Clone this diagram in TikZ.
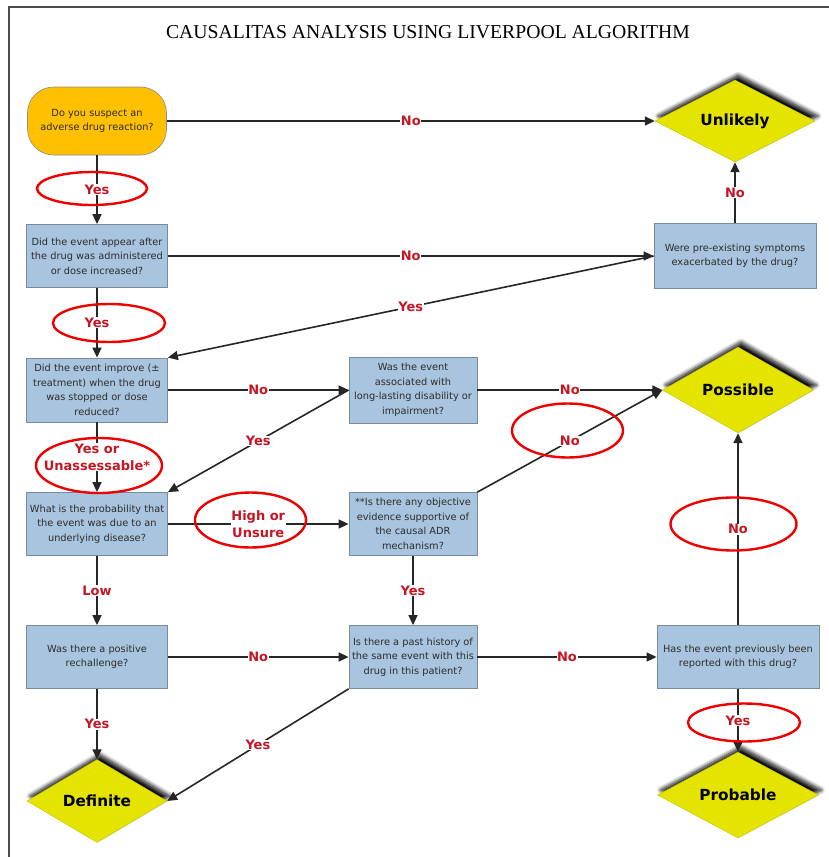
\documentclass[tikz,border=0pt]{standalone}
\usepackage{fontspec}
\setmainfont{DejaVu Sans}
\newfontfamily\titlefont{Liberation Serif}
\usetikzlibrary{shapes.geometric, arrows.meta, shadows.blur}

\definecolor{qblue}{RGB}{168,196,222}
\definecolor{qedge}{RGB}{120,140,160}
\definecolor{startfill}{RGB}{255,192,0}
\definecolor{endfill}{RGB}{228,228,0}
\definecolor{lblred}{RGB}{196,22,36}
\definecolor{ringred}{RGB}{238,0,0}
\definecolor{txtgray}{RGB}{45,45,45}

\tikzset{
	question/.style={rectangle, draw=qedge, line width=0.8pt, fill=qblue, text=txtgray, align=center, inner sep=1pt, font=\fontsize{9.8}{14.5}\selectfont},
	startbox/.style={rectangle, rounded corners=26pt, draw=black!45, line width=0.6pt, fill=startfill, text=txtgray, align=center, minimum width=139pt, minimum height=68pt, font=\fontsize{9.8}{14.5}\selectfont},
	verdict/.style={diamond, aspect=2, inner sep=0pt, fill=endfill, draw=endfill!85!black, line width=0.4pt, font=\bfseries\fontsize{15.3}{18}\selectfont, blur shadow={shadow xshift=3pt, shadow yshift=5pt, shadow blur radius=4pt, shadow blur steps=8, shadow opacity=95}},
	flow/.style={draw=black!85, line width=1.6pt, -{Triangle[length=10pt, width=9pt]}},
	lbl/.style={fill=white, text=lblred, inner sep=0.6pt, align=center, font=\bfseries\fontsize{13}{17}\selectfont},
	ring/.style={ellipse, draw=ringred, line width=2.4pt, inner sep=0pt}
}

\begin{document}
\begin{tikzpicture}[x=1pt, y=-1pt]
	\useasboundingbox (0,0) rectangle (829,857);
	\draw [line width=1.6pt, black!70] (9,857) -- (9,7) -- (829,7);
	\node [font=\titlefont\fontsize{19.7}{22}\selectfont] (title) at (428,32) {CAUSALITAS ANALYSIS USING LIVERPOOL ALGORITHM};

	% questions
	\node [startbox] (start) at (97,121) {Do you suspect an\\adverse drug reaction?};
	\node [question, minimum width=141pt, minimum height=63pt] (appear) at (97,256) {Did the event appear after\\the drug was administered\\or dose increased?};
	\node [question, minimum width=162pt, minimum height=65pt] (preexist) at (735,256) {Were pre-existing symptoms\\exacerbated by the drug?};
	\node [question, minimum width=141pt, minimum height=64pt] (improve) at (97,390) {Did the event improve (±\\treatment) when the drug\\was stopped or dose\\reduced?};
	\node [question, minimum width=128pt, minimum height=66pt] (lasting) at (413,390) {Was the event\\associated with\\long-lasting disability or\\impairment?};
	\node [question, minimum width=141pt, minimum height=63pt] (disease) at (97,524) {What is the probability that\\the event was due to an\\underlying disease?};
	\node [question, minimum width=128pt, minimum height=63pt] (objective) at (413,524) {**Is there any objective\\evidence supportive of\\the causal ADR\\mechanism?};
	\node [question, minimum width=141pt, minimum height=63pt] (rechal) at (97,657) {Was there a positive\\rechallenge?};
	\node [question, minimum width=128pt, minimum height=63pt] (history) at (413,657) {Is there a past history of\\the same event with this\\drug in this patient?};
	\node [question, minimum width=162pt, minimum height=63pt] (reported) at (738,657) {Has the event previously been\\reported with this drug?};

	% verdicts
	\node [verdict, minimum width=160pt, minimum height=82pt] (unlikely) at (735,121) {Unlikely};
	\node [verdict, minimum width=151pt, minimum height=86pt] (possible) at (738,390) {Possible};
	\node [verdict, minimum width=140pt, minimum height=83pt] (definite) at (97,801) {Definite};
	\node [verdict, minimum width=161pt, minimum height=86pt] (probable) at (738,795) {Probable};

	% connectors
	\draw [flow] (start) -- node [lbl] (no1) {No} (unlikely);
	\draw [flow] (start) -- node [lbl] (yes1) {Yes} (appear);
	\draw [flow] (appear) -- node [lbl] (no2) {No} (preexist);
	\draw [flow] (preexist) -- node [lbl] (no3) {No} (unlikely);
	\draw [flow] (appear) -- node [lbl] (yes2) {Yes} (improve);
	\draw [flow] (preexist.west) -- node [lbl] (yes3) {Yes} (improve.north east);
	\draw [flow] (improve) -- node [lbl] (no4) {No} (lasting.west);
	\draw [flow] (lasting) -- node [lbl] (no5) {No} (possible);
	\draw [flow] (lasting.west) -- node [lbl] (yes4) {Yes} (disease.north east);
	\draw [flow] (improve) -- node [lbl] (yes5) {Yes or\\Unassessable*} (disease);
	\draw [flow] (disease) -- node [lbl] (high) {High or\\Unsure} (objective);
	\draw [flow] (objective.north east) -- node [lbl] (no6) {No} (possible.west);
	\draw [flow] (objective) -- node [lbl] (yes6) {Yes} (history);
	\draw [flow] (disease) -- node [lbl] (low) {Low} (rechal);
	\draw [flow] (rechal) -- node [lbl] (no7) {No} (history);
	\draw [flow] (history) -- node [lbl] (no8) {No} (reported);
	\draw [flow] (rechal) -- node [lbl] (yes7) {Yes} (definite);
	\draw [flow] (history.south west) -- node [lbl] (yes8) {Yes} (definite.east);
	\draw [flow] (reported) -- node [lbl] (no9) {No} (possible);
	\draw [flow] (reported) -- node [lbl] (yes9) {Yes} (probable);

	% red rings
	\node [ring, minimum width=110pt, minimum height=33pt] (ring1) at (92,188.5) {};
	\node [ring, minimum width=112pt, minimum height=38pt] (ring2) at (109,323) {};
	\node [ring, minimum width=126pt, minimum height=55pt] (ring3) at (99,465.5) {};
	\node [ring, minimum width=111pt, minimum height=55pt] (ring4) at (250.5,520) {};
	\node [ring, minimum width=111pt, minimum height=54pt] (ring5) at (567.5,430.5) {};
	\node [ring, minimum width=126pt, minimum height=53pt] (ring6) at (733.5,524) {};
	\node [ring, minimum width=112pt, minimum height=38pt] (ring7) at (744,722.5) {};
\end{tikzpicture}
\end{document}
